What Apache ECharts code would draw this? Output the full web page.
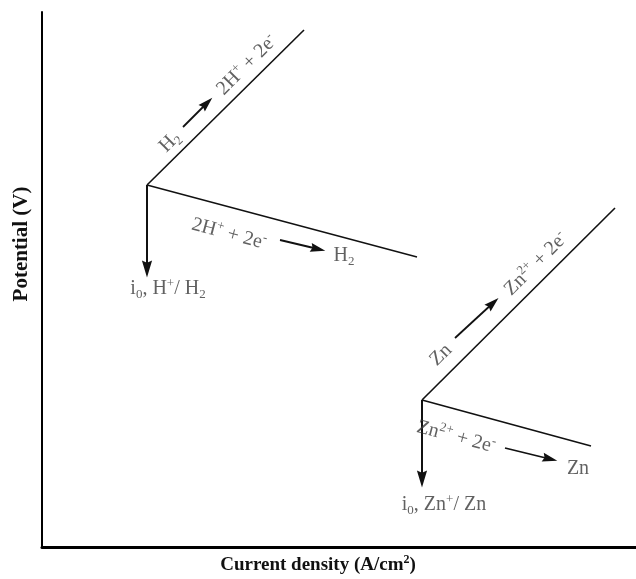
<!DOCTYPE html>
<html>
<head>
<meta charset="utf-8">
<script src="https://cdn.jsdelivr.net/npm/echarts@6/dist/echarts.min.js"></script>
<style>
  html, body { margin: 0; padding: 0; background: #fff; }
  #chart { width: 636px; height: 579px; }
</style>
</head>
<body>
<div id="chart"></div>
<script>
// schematic axes, no units shown
const xRange = [0, 594];
const yRange = [0, 535];

// H+/H2 branches (corner = exchange current point)
const h2Anodic = [[105, 362], [262, 517]];
const h2Cathodic = [[105, 362], [375, 290]];
const h2Exchange = [[105, 362], [105, 278]];

// Zn2+/Zn branches
const znAnodic = [[380, 147], [573, 339]];
const znCathodic = [[380, 147], [549, 101]];
const znExchange = [[380, 147], [380, 68]];

// small arrows inside the reaction labels
const reactionArrows = [
  [[141, 420], [165, 444]],
  [[238, 307], [276, 298]],
  [[463, 99], [508, 88]],
  [[413, 209], [451, 244]]
];

// [x, y, angle, text]
const notes = [
  [128, 405, 45, 'H{sub|2}'],
  [205, 482, 45, '2H{sup|+} + 2e{sup|-}'],
  [187, 313, -15, '2H{sup|+} + 2e{sup|-}'],
  [302, 291, 0, 'H{sub|2}'],
  [126, 258, 0, 'i{sub|0}, H{sup|+}/ H{sub|2}'],
  [399, 192, 45, 'Zn'],
  [494, 283, 45, 'Zn{sup|2+} + 2e{sup|-}'],
  [414, 110, -15, 'Zn{sup|2+} + 2e{sup|-}'],
  [536, 78, 0, 'Zn'],
  [402, 42, 0, 'i{sub|0}, Zn{sup|+}/ Zn']
];

const serif = '"Liberation Serif", "DejaVu Serif", serif';
const arrowHead = 'path://M0,0M16,16M8,0L12.8,16L8,14L3.2,16Z';

const chart = echarts.init(document.getElementById('chart'));

const branch = (data) => ({
  type: 'line',
  data: data,
  symbol: 'none',
  silent: true,
  lineStyle: { color: '#111', width: 1.6 },
  z: 3
});

chart.setOption({
  animation: false,
  grid: { left: 42, right: 0, top: 12, bottom: 32 },
  xAxis: {
    type: 'value', min: xRange[0], max: xRange[1],
    axisLine: { show: true, lineStyle: { color: '#000', width: 3 } },
    axisTick: { show: false }, axisLabel: { show: false }, splitLine: { show: false }
  },
  yAxis: {
    type: 'value', min: yRange[0], max: yRange[1],
    axisLine: { show: true, lineStyle: { color: '#000', width: 2 } },
    axisTick: { show: false }, axisLabel: { show: false }, splitLine: { show: false }
  },
  graphic: [
    {
      type: 'text', x: 22, y: 244, rotation: Math.PI / 2,
      style: {
        text: 'Potential (V)', font: 'bold 21px ' + serif, fill: '#111',
        align: 'center', verticalAlign: 'middle'
      }
    },
    {
      type: 'text', x: 318, y: 565,
      style: {
        text: 'Current density (A/cm{sup|2})', font: 'bold 19px ' + serif, fill: '#111',
        align: 'center', verticalAlign: 'middle', lineHeight: 22,
        rich: { sup: { font: 'bold 12px ' + serif, fill: '#111', verticalAlign: 'top', lineHeight: 10 } }
      }
    }
  ],
  series: [
    branch(h2Anodic),
    branch(h2Cathodic),
    branch(znAnodic),
    branch(znCathodic),
    {
      type: 'lines',
      coordinateSystem: 'cartesian2d',
      silent: true,
      symbol: ['none', arrowHead],
      symbolSize: 17,
      lineStyle: { color: '#111', width: 2, opacity: 1 },
      data: [{ coords: h2Exchange }, { coords: znExchange }],
      z: 4
    },
    {
      type: 'lines',
      coordinateSystem: 'cartesian2d',
      silent: true,
      symbol: ['none', arrowHead],
      symbolSize: 15,
      lineStyle: { color: '#111', width: 1.8, opacity: 1 },
      data: reactionArrows.map(c => ({ coords: c })),
      z: 4
    },
    {
      type: 'scatter',
      silent: true,
      symbolSize: 1,
      itemStyle: { color: 'rgba(0,0,0,0)' },
      data: notes.map(n => ({
        value: [n[0], n[1]],
        label: { rotate: n[2], formatter: n[3] }
      })),
      label: {
        show: true,
        position: 'inside',
        align: 'center',
        verticalAlign: 'middle',
        fontFamily: serif,
        fontSize: 20,
        color: '#3a3a3a',
        lineHeight: 24,
        rich: {
          sub: { fontFamily: serif, fontSize: 13, color: '#3a3a3a', verticalAlign: 'bottom', lineHeight: 13 },
          sup: { fontFamily: serif, fontSize: 13, color: '#3a3a3a', verticalAlign: 'top', lineHeight: 11 }
        }
      },
      z: 5
    }
  ]
});
</script>
</body>
</html>
